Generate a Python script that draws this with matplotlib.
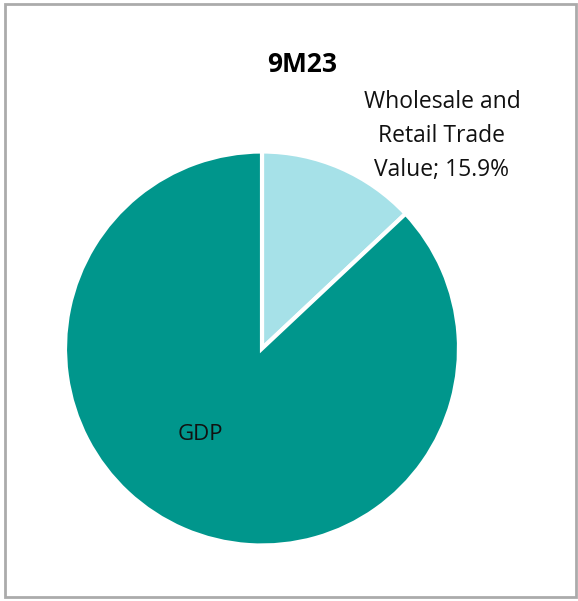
import matplotlib
matplotlib.use("Agg")
import matplotlib.pyplot as plt
from matplotlib.patches import Rectangle

# Data (slice shares as drawn in the picture; label text as printed)
categories = ["Wholesale and Retail Trade Value", "GDP"]
shares = [13.0, 87.0]
label_texts = ["Wholesale and\nRetail Trade\nValue; 15.9%", "GDP"]
colors = ["#A6E1E8", "#00968C"]
title = "9M23"

W, H = 578, 601
fig = plt.figure(figsize=(W / 100, H / 100), dpi=100)
plt.rcParams['font.family'] = ['Open Sans', 'DejaVu Sans']

# frame around chart
fig.patches.append(Rectangle((5 / W, 4 / H), (W - 7) / W, (H - 8) / H,
                             transform=fig.transFigure, fill=False,
                             edgecolor="#ABABAB", linewidth=2))

cx, cy, r = 262, 348.5, 197
ax = fig.add_axes([(cx - r) / W, (H - cy - r) / H, 2 * r / W, 2 * r / H])
ax.pie(shares, colors=colors, startangle=90, counterclock=False,
       wedgeprops=dict(edgecolor="white", linewidth=3), radius=1)
ax.set_xlim(-1, 1)
ax.set_ylim(-1, 1)
ax.set_aspect("equal")
ax.axis("off")

def px(x, y):
    return x / W, 1 - y / H

fig.text(*px(302, 64), title, ha="center", va="center", fontsize=19,
         fontweight="bold", color="black")
fig.text(*px(442, 136), label_texts[0], ha="center", va="center", fontsize=16.5,
         linespacing=1.55, color="#111111")
fig.text(*px(200, 434), label_texts[1], ha="center", va="center", fontsize=16,
         color="#111111")

fig.savefig("out.png", dpi=100)
